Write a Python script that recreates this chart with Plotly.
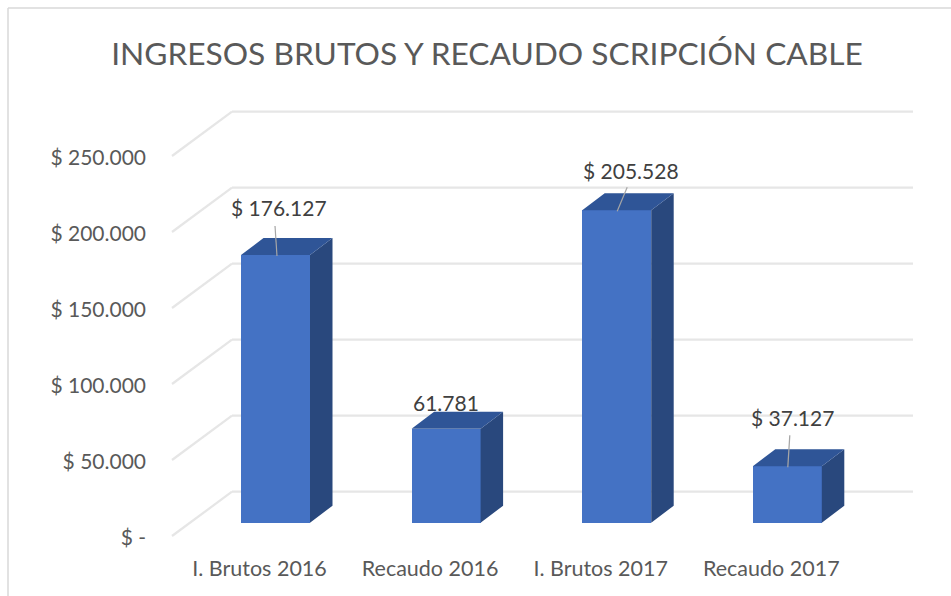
import plotly.graph_objects as go

# ---- data ----
categories = ["I. Brutos 2016", "Recaudo 2016", "I. Brutos 2017", "Recaudo 2017"]
values = [176127, 61781, 205528, 37127]
value_labels = ["$ 176.127", "61.781", "$ 205.528", "$ 37.127"]
axis_values = [0, 50000, 100000, 150000, 200000, 250000]
axis_labels = ["$ -", "$ 50.000", "$ 100.000", "$ 150.000", "$ 200.000", "$ 250.000"]

# ---- geometry (pixels of the 951x596 page) ----
W, H = 951, 596
PLOT_L, PLOT_R, PLOT_T, PLOT_B = 160, 925, 100, 550
X0_PX, X_STEP = 275.5, 170.6      # centre of first bar, spacing of bars
Y0_PX, Y_SCALE = 522.7, 76 / 50000  # value 0 of bars, px per unit

def dx(px):  # px distance -> x units
    return px / X_STEP

def dy(px):  # px distance -> y units
    return px / Y_SCALE

x_range = [(PLOT_L - X0_PX) / X_STEP, (PLOT_R - X0_PX) / X_STEP]
y_range = [(Y0_PX - PLOT_B) / Y_SCALE, (Y0_PX - PLOT_T) / Y_SCALE]

BAR_W = dx(69)
DEPTH_X, DEPTH_Y = dx(22.5), dy(17)

xs = list(range(len(categories)))
fig = go.Figure()

# front faces
fig.add_trace(go.Bar(x=xs, y=values, width=BAR_W, marker=dict(color="#4472C4", line_width=0),
                     showlegend=False, hoverinfo="skip"))

# side and top faces
side_x, side_y, top_x, top_y = [], [], [], []
for x, v in zip(xs, values):
    r = x + BAR_W / 2
    l = x - BAR_W / 2
    side_x += [r, r + DEPTH_X, r + DEPTH_X, r, r, None]
    side_y += [0, DEPTH_Y, v + DEPTH_Y, v, 0, None]
    top_x += [l, l + DEPTH_X, r + DEPTH_X, r, l, None]
    top_y += [v, v + DEPTH_Y, v + DEPTH_Y, v, v, None]
for px_, py_, col in [(side_x, side_y, "#29487D"), (top_x, top_y, "#2F5597")]:
    fig.add_trace(go.Scatter(x=px_, y=py_, mode="lines", fill="toself", fillcolor=col,
                             line=dict(width=0, color=col), showlegend=False, hoverinfo="skip"))

# leader lines
leaders = [(0, 1.5, -2, -29), (2, 0.5, 10, -23), (3, 0.5, 2, -31)]  # bar index, tip dx, end dx, end dy in px
for i, tip, ex, ey in leaders:
    fig.add_trace(go.Scatter(x=[xs[i] + dx(tip), xs[i] + dx(tip + ex)],
                             y=[values[i] - dy(1), values[i] - dy(ey)],
                             mode="lines", line=dict(color="#A6A6A6", width=1.2),
                             showlegend=False, hoverinfo="skip"))

# wall grid lines, on the floor-to-back perspective
FRONT_DY = dy(-13.3)
BACK_DY = dy(31)
FRONT_X = (172 - X0_PX) / X_STEP
BACK_X = (232 - X0_PX) / X_STEP
RIGHT_X = (913 - X0_PX) / X_STEP
shapes = []
grid_style = dict(color="#E6E6E6", width=2.2)
for v in axis_values:
    shapes.append(dict(type="line", xref="x", yref="y", layer="below", x0=FRONT_X, x1=BACK_X,
                       y0=v + FRONT_DY, y1=v + BACK_DY, line=grid_style))
    shapes.append(dict(type="line", xref="x", yref="y", layer="below", x0=BACK_X, x1=RIGHT_X,
                       y0=v + BACK_DY, y1=v + BACK_DY, line=grid_style))

# chart border (paper coords)
def px_x(p):
    return (p - PLOT_L) / (PLOT_R - PLOT_L)

def px_y(p):
    return (PLOT_B - p) / (PLOT_B - PLOT_T)

border = dict(color="#D9D9D9", width=1.5)
shapes.append(dict(type="line", xref="paper", yref="paper", x0=px_x(8), x1=px_x(8), y0=px_y(8), y1=px_y(596), line=border))
shapes.append(dict(type="line", xref="paper", yref="paper", x0=px_x(8), x1=px_x(951), y0=px_y(8), y1=px_y(8), line=border))

# value labels: centre offsets from bar top in px
label_off = [(3.5, 47), (0, 26), (14, 40), (5, 49)]
annotations = []
for x, v, t, (ox, oy) in zip(xs, values, value_labels, label_off):
    annotations.append(dict(x=x + dx(ox), y=v + dy(oy), text=t, showarrow=False, xanchor="center", yanchor="middle",
                            font=dict(family="Lato", size=21, color="#404040")))

fig.update_layout(
    width=W, height=H, autosize=False,
    margin=dict(l=PLOT_L, r=W - PLOT_R, t=PLOT_T, b=H - PLOT_B, pad=0),
    paper_bgcolor="white", plot_bgcolor="rgba(0,0,0,0)",
    bargap=0, shapes=shapes, annotations=annotations,
    title=dict(text="INGRESOS BRUTOS Y RECAUDO SCRIPCIÓN CABLE", x=487 / W, xanchor="center", xref="container",
               y=1 - 54 / H, yanchor="middle", yref="container",
               font=dict(family="Lato", size=31.7, color="#595959")),
    xaxis=dict(range=x_range, tickvals=[x - dx(16) for x in xs], ticktext=categories, showgrid=False,
               zeroline=False, showline=False, ticks="", ticklabelstandoff=3,
               tickfont=dict(family="Lato", size=21.5, color="#595959")),
    yaxis=dict(range=y_range, tickvals=[v + FRONT_DY - dy(2) for v in axis_values], ticktext=axis_labels,
               showgrid=False, zeroline=False, showline=False, ticks="", ticklabelstandoff=13,
               tickfont=dict(family="Lato", size=21, color="#595959")),
)

fig.write_html("out.html", post_script="document.body.style.margin='0';",
               config=dict(displayModeBar=False))
